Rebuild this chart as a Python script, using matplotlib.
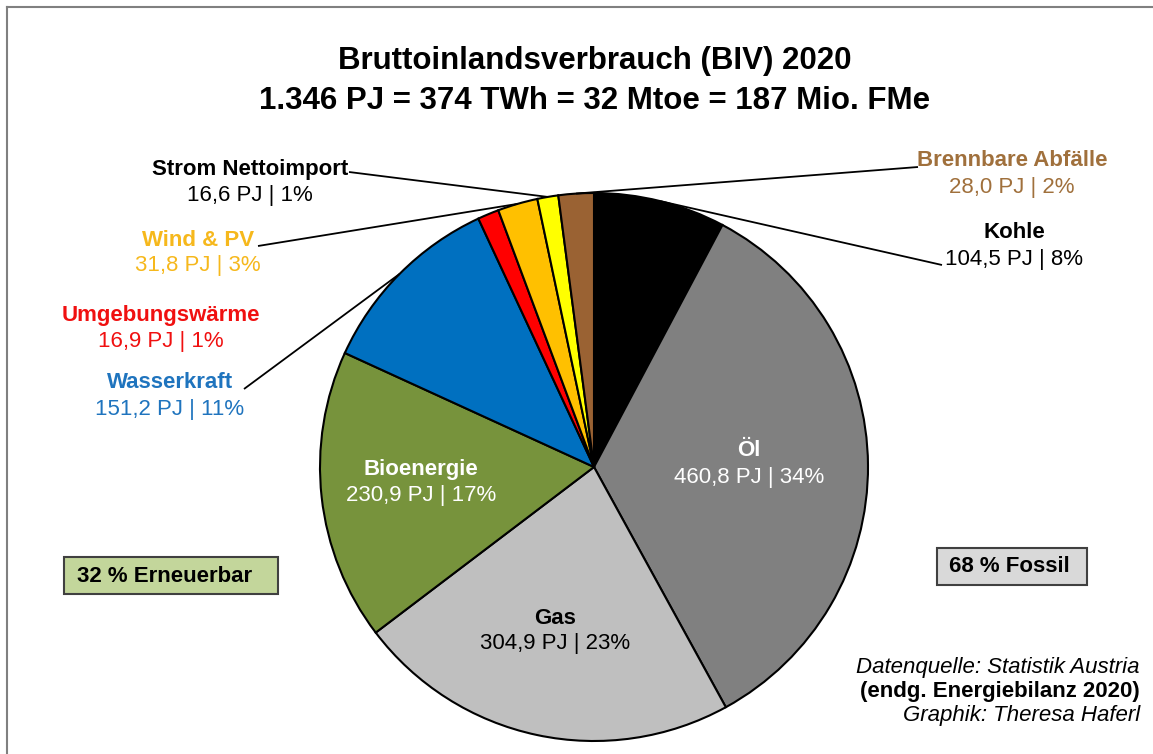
import numpy as np
import matplotlib
matplotlib.use("Agg")
import matplotlib.pyplot as plt
from matplotlib.patches import Rectangle

plt.rcParams['font.family'] = ['Liberation Sans', 'DejaVu Sans']

# DATA (PJ), clockwise from the top
names = ['Kohle', 'Öl', 'Gas', 'Bioenergie', 'Wasserkraft', 'Umgebungswärme',
         'Wind & PV', 'Strom Nettoimport', 'Brennbare Abfälle']
values = [104.5, 460.8, 304.9, 230.9, 151.2, 16.9, 31.8, 16.6, 28.0]
shares = [8, 34, 23, 17, 11, 1, 3, 1, 2]
colors = ['#000000', '#808080', '#BFBFBF', '#77933C', '#0070C0', '#FF0000',
          '#FFC000', '#FFFF00', '#9A6233']
text_colors = ['black', 'white', 'black', 'white', '#1F74BE', '#F01010',
               '#F6B81C', 'black', '#A0703C']

W, H = 1153, 754
def py(y):
    # pixel row -> data y
    return H - y

# label positions (pixel)
label_pos = {
    'Kohle': (1014, 233),
    'Öl': (749, 451),
    'Gas': (555, 618),
    'Bioenergie': (421, 470),
    'Wasserkraft': (170, 383),
    'Umgebungswärme': (161, 316),
    'Wind & PV': (198, 240),
    'Strom Nettoimport': (250, 169),
    'Brennbare Abfälle': (1012, 161),
}
# leader lines start here (pixel), end at the slice's outer middle
line_start = {
    'Kohle': (942, 265),
    'Wasserkraft': (244, 389),
    'Wind & PV': (258, 246),
    'Strom Nettoimport': (349, 172),
    'Brennbare Abfälle': (918, 167),
}

fig = plt.figure(figsize=(W / 100, H / 100), dpi=100)
ax = fig.add_axes([0, 0, 1, 1])

cx, cy, R = 594, 467, 274
wedges, _ = ax.pie(values, colors=colors, startangle=90, counterclock=False,
                   center=(cx, py(cy)), radius=R,
                   wedgeprops=dict(edgecolor='black', linewidth=1.5))
ax.set_xlim(0, W)
ax.set_ylim(0, H)
ax.set_aspect('equal')
ax.axis('off')

fs = 16
for i, name in enumerate(names):
    x, y = label_pos[name]
    val = f"{values[i]:.1f}".replace('.', ',') + f" PJ | {shares[i]}%"
    ax.text(x, py(y), name, ha='center', va='center', fontsize=fs,
            fontweight='bold', color=text_colors[i])
    ax.text(x, py(y + 26), val, ha='center', va='center', fontsize=fs,
            color=text_colors[i])
    if name in line_start:
        w = wedges[i]
        mid = np.deg2rad((w.theta1 + w.theta2) / 2)
        ex = cx + R * np.cos(mid)
        ey = py(cy) + R * np.sin(mid)
        sx, sy = line_start[name]
        ax.plot([sx, ex], [py(sy), ey], color='black', lw=1.3,
                solid_capstyle='butt', zorder=5)

# title
ax.text(595, py(61), 'Bruttoinlandsverbrauch (BIV) 2020', ha='center', va='center',
        fontsize=22.5, fontweight='bold')
ax.text(595, py(101), '1.346 PJ = 374 TWh = 32 Mtoe = 187 Mio. FMe', ha='center',
        va='center', fontsize=22.5, fontweight='bold')

# summary boxes
ax.add_patch(Rectangle((64, py(594)), 214, 37, fc='#C3D69B', ec='#404040', lw=1.5))
ax.text(165, py(576), '32 % Erneuerbar', ha='center', va='center', fontsize=fs,
        fontweight='bold')
ax.add_patch(Rectangle((937, py(585)), 150, 37, fc='#D9D9D9', ec='#404040', lw=1.5))
ax.text(1009, py(567), '68 % Fossil', ha='center', va='center', fontsize=fs,
        fontweight='bold')

# source
ax.text(1140, py(667), 'Datenquelle: Statistik Austria', ha='right', va='center',
        fontsize=fs, style='italic')
ax.text(1140, py(692), '(endg. Energiebilanz 2020)', ha='right', va='center',
        fontsize=fs, fontweight='bold')
ax.text(1140, py(716), 'Graphik: Theresa Haferl', ha='right', va='center',
        fontsize=fs, style='italic')

# frame
ax.plot([7, W], [py(7), py(7)], color='#808080', lw=1.5, clip_on=False)
ax.plot([7, 7], [py(7), 0], color='#808080', lw=1.5, clip_on=False)

fig.savefig('out.png', dpi=100)
